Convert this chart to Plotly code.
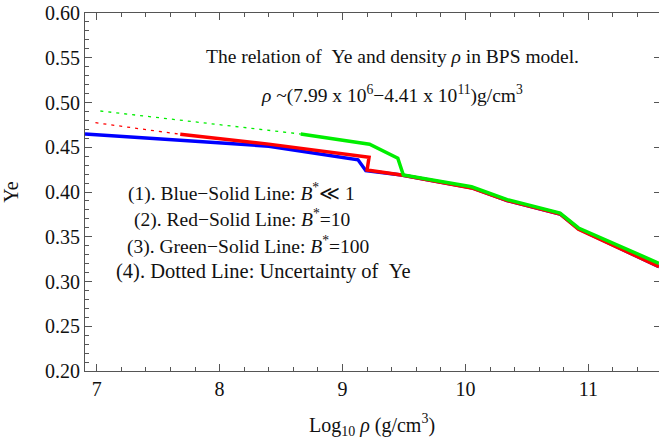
import plotly.graph_objects as go

# ---- data ----
blue_x = [6.905, 8.4, 9.126, 9.19, 9.48, 10.05, 10.34, 10.77, 10.92, 11.575]
blue_y = [0.4648, 0.4512, 0.4360, 0.4238, 0.4190, 0.4048, 0.3905, 0.3755, 0.3588, 0.3166]

red_x = [7.68, 8.4, 9.216, 9.20, 9.48, 10.05, 10.34, 10.77, 10.92, 11.575]
red_y = [0.4645, 0.4535, 0.4388, 0.4246, 0.4190, 0.4045, 0.3905, 0.3755, 0.3585, 0.3166]

green_x = [8.66, 9.22, 9.45, 9.495, 10.05, 10.34, 10.77, 10.92, 11.575]
green_y = [0.4648, 0.4533, 0.4377, 0.4190, 0.4058, 0.3915, 0.3765, 0.3598, 0.3203]

red_dot_x = [6.99, 7.68]
red_dot_y = [0.4774, 0.4645]
green_dot_x = [7.03, 8.66]
green_dot_y = [0.4905, 0.4648]

x_range = [6.905, 11.575]
y_range = [0.2, 0.6]
x_ticks = [7, 8, 9, 10, 11]
y_ticks = [0.20, 0.25, 0.30, 0.35, 0.40, 0.45, 0.50, 0.55, 0.60]
y_ticklabels = ["0.20", "0.25", "0.30", "0.35", "0.40", "0.45", "0.50", "0.55", "0.60"]

FONT = "Liberation Serif"
AX = "#555555"
TXT = "#111111"
W, H = 659, 444
ML, MR, MT, MB = 85, 0, 13, 73
PW, PH = W - ML - MR, H - MT - MB

fig = go.Figure()
fig.add_trace(go.Scatter(x=red_dot_x, y=red_dot_y, mode="lines",
                         line=dict(color="#ff0000", width=1.3, dash="3px,5px")))
fig.add_trace(go.Scatter(x=green_dot_x, y=green_dot_y, mode="lines",
                         line=dict(color="#00ee00", width=1.3, dash="3px,5px")))
fig.add_trace(go.Scatter(x=blue_x, y=blue_y, mode="lines",
                         line=dict(color="#0000ff", width=3.5)))
fig.add_trace(go.Scatter(x=red_x, y=red_y, mode="lines",
                         line=dict(color="#ff0000", width=3.5)))
fig.add_trace(go.Scatter(x=green_x, y=green_y, mode="lines",
                         line=dict(color="#00ee00", width=3.5)))
# invisible trace on y2 for right-side ticks
fig.add_trace(go.Scatter(x=[x_range[0]], y=[y_range[0]], yaxis="y2", mode="markers",
                         marker=dict(opacity=0), hoverinfo="skip"))

fig.update_layout(
    width=W, height=H,
    margin=dict(l=ML, r=MR, t=MT, b=MB, autoexpand=False),
    paper_bgcolor="white", plot_bgcolor="white",
    showlegend=False,
    font=dict(family=FONT, color=TXT, size=20),
    xaxis=dict(range=x_range, tickvals=x_ticks, ticks="inside", ticklen=7, tickcolor=AX,
               showline=True, linecolor=AX, linewidth=1.2, mirror="ticks", automargin=False,
               showgrid=False, zeroline=False,
               minor=dict(dtick=0.2, tick0=7, ticks="inside", ticklen=4, tickcolor=AX, showgrid=False),
               tickfont=dict(size=20, family=FONT, color=TXT),
               title=dict(text="Log<sub>10</sub> <i>ρ</i> (g/cm<sup>3</sup>)", standoff=18,
                          font=dict(size=20, family=FONT, color=TXT))),
    yaxis=dict(range=y_range, tickvals=y_ticks, ticktext=y_ticklabels, ticks="inside", ticklen=7,
               tickcolor=AX, showline=True, linecolor=AX, linewidth=1.2, automargin=False,
               showgrid=False, zeroline=False, ticklabeloverflow="allow",
               minor=dict(dtick=0.01, tick0=0.2, ticks="inside", ticklen=4, tickcolor=AX, showgrid=False),
               tickfont=dict(size=20, family=FONT, color=TXT),
               title=dict(text="Ye", standoff=20, font=dict(size=20, family=FONT, color=TXT))),
    yaxis2=dict(range=y_range, overlaying="y", side="right", tickvals=y_ticks, ticks="inside",
                ticklen=5, tickcolor=AX, showticklabels=False, showline=False, automargin=False,
                showgrid=False, zeroline=False),
)

# annotation centres in picture pixels
ann = [
    ("The relation of\u2002Ye and density <i>ρ</i> in BPS model.", 392, 57, 19.5),
    ("<i>ρ</i> ~(7.99 x 10<sup>6</sup>−4.41 x 10<sup>11</sup>)g/cm<sup>3</sup>", 392, 94, 19.5),
    ("(1). Blue−Solid Line: <i>B</i><sup>*</sup>≪ 1", 242, 192, 19.5),
    ("(2). Red−Solid Line: <i>B</i><sup>*</sup>=10", 242, 218, 19.5),
    ("(3). Green−Solid Line: <i>B</i><sup>*</sup>=100", 248, 245, 19.5),
    ("(4). Dotted Line: Uncertainty of\u2002Ye", 263, 271, 20.5),
]
for text, px, py, fs in ann:
    fig.add_annotation(text=text, x=(px - ML) / PW, y=(H - MB - py) / PH, xref="paper", yref="paper",
                       showarrow=False, xanchor="center", yanchor="middle",
                       font=dict(family=FONT, size=fs, color=TXT))

# remove the default 8px page margin so the 659x444 figure fills the window exactly
fig.write_html("out.html", config={"displayModeBar": False},
               post_script="document.body.style.margin='0';")
